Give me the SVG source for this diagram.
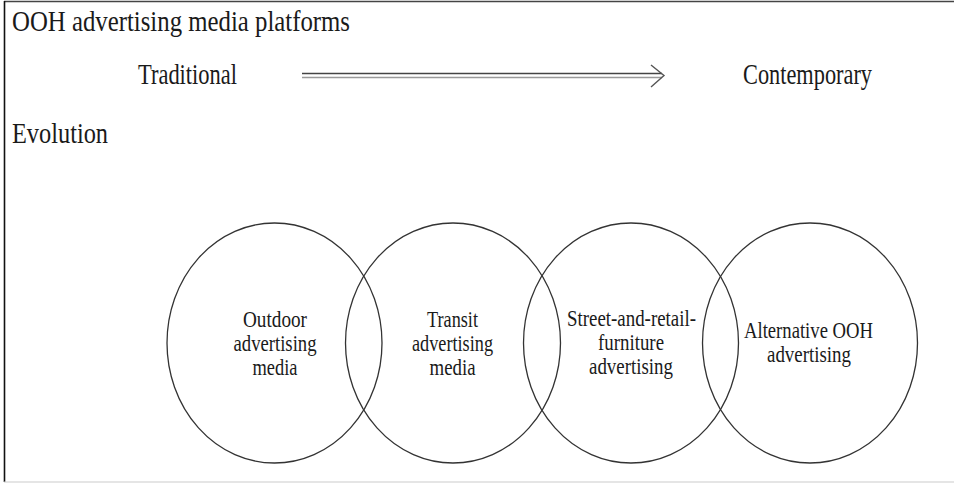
<svg xmlns="http://www.w3.org/2000/svg" width="954" height="484" viewBox="0 0 954 484">
<style>
text{font-family:"Liberation Serif","Times New Roman",serif;fill:#1a1a1a;}
.h{font-size:30px;}
.c{font-size:23px;text-anchor:middle;}
.circ{fill:none;stroke:#333;stroke-width:1.3;}
</style>
<rect x="0" y="0" width="954" height="484" fill="#fff"/>
<line x1="4" y1="1.5" x2="954" y2="1.5" stroke="#444" stroke-width="1.5"/>
<line x1="4.5" y1="1" x2="4.5" y2="482" stroke="#111" stroke-width="1.6"/>
<line x1="4" y1="482" x2="954" y2="482" stroke="#ccc" stroke-width="1.2"/>
<g id="header">
<text class="h" x="12" y="31" textLength="338" lengthAdjust="spacingAndGlyphs">OOH advertising media platforms</text>
<text class="h" x="138" y="84" textLength="99" lengthAdjust="spacingAndGlyphs">Traditional</text>
<text class="h" x="743" y="84" textLength="129" lengthAdjust="spacingAndGlyphs">Contemporary</text>
<text class="h" x="12" y="143" textLength="96" lengthAdjust="spacingAndGlyphs">Evolution</text>
</g>
<g id="connectors">
<line x1="302" y1="73.5" x2="662" y2="73.5" stroke="#444" stroke-width="1.5"/>
<line x1="302" y1="77.5" x2="662" y2="77.5" stroke="#999" stroke-width="1.5"/>
<polyline points="651,65 664,75.5 651,87" fill="none" stroke="#555" stroke-width="1.4"/>
</g>
<g id="outdoor">
<ellipse class="circ" cx="274.5" cy="343" rx="107.5" ry="120"/>
<text class="c" x="275" y="327" textLength="64" lengthAdjust="spacingAndGlyphs">Outdoor</text>
<text class="c" x="275" y="351" textLength="83" lengthAdjust="spacingAndGlyphs">advertising</text>
<text class="c" x="275" y="375" textLength="45" lengthAdjust="spacingAndGlyphs">media</text>
</g>
<g id="transit">
<ellipse class="circ" cx="453" cy="343" rx="107.5" ry="120"/>
<text class="c" x="452.5" y="327" textLength="51" lengthAdjust="spacingAndGlyphs">Transit</text>
<text class="c" x="452.5" y="351" textLength="81" lengthAdjust="spacingAndGlyphs">advertising</text>
<text class="c" x="452.5" y="375" textLength="46" lengthAdjust="spacingAndGlyphs">media</text>
</g>
<g id="street">
<ellipse class="circ" cx="631" cy="343" rx="107.5" ry="120"/>
<text class="c" x="631.5" y="326" textLength="129" lengthAdjust="spacingAndGlyphs">Street-and-retail-</text>
<text class="c" x="631" y="350" textLength="66" lengthAdjust="spacingAndGlyphs">furniture</text>
<text class="c" x="631" y="374" textLength="84" lengthAdjust="spacingAndGlyphs">advertising</text>
</g>
<g id="alternative">
<ellipse class="circ" cx="810" cy="343" rx="107.5" ry="120"/>
<text class="c" x="808.5" y="338" textLength="129" lengthAdjust="spacingAndGlyphs">Alternative OOH</text>
<text class="c" x="809" y="362" textLength="84" lengthAdjust="spacingAndGlyphs">advertising</text>
</g>
</svg>
